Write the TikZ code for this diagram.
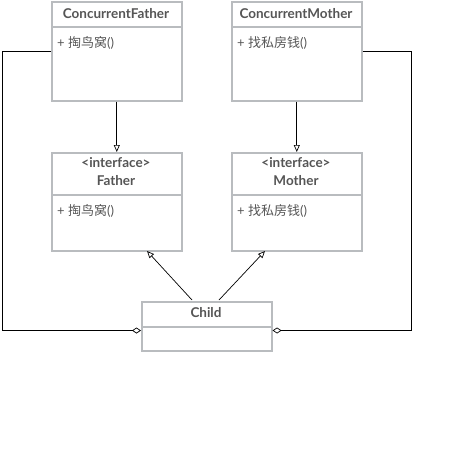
\documentclass[tikz,border=0pt]{standalone}
\usepackage{fontspec}
\setmainfont{Lato}
\newfontfamily\cjk{Noto Sans CJK SC}
\usetikzlibrary{arrows.meta}
\definecolor{bordergray}{HTML}{B9BCBF}
\definecolor{textgray}{HTML}{555555}
\tikzset{
  umlbox/.style={draw=bordergray, line width=1.6pt, fill=white, inner sep=0pt, anchor=north west},
  divline/.style={draw=bordergray, line width=1.6pt},
  hdr/.style={font=\fontsize{13.5}{15}\selectfont\bfseries, text=textgray, inner sep=0pt},
  mem/.style={font=\fontsize{13}{15}\selectfont, text=textgray, inner sep=0pt, anchor=west},
  conn/.style={draw=black, line width=0.7pt},
  realize/.style={conn, -{Triangle[open, length=7pt, width=6pt]}},
  aggr/.style={conn, -{Diamond[open, length=9pt, width=6pt]}}
}
\begin{document}
\begin{tikzpicture}[x=1pt, y=-1pt]
\useasboundingbox (0,0) rectangle (448,453);
% boxes
\node[umlbox, minimum width=130pt, minimum height=99pt] (cf) at (51,1) {};
\node[umlbox, minimum width=130pt, minimum height=99pt] (cm) at (231,1) {};
\node[umlbox, minimum width=130pt, minimum height=98pt] (fa) at (51,152) {};
\node[umlbox, minimum width=130pt, minimum height=98pt] (mo) at (231,152) {};
\node[umlbox, minimum width=130pt, minimum height=49pt] (ch) at (141,301) {};
% dividers
\draw[divline] (cf.west |- 0,27) -- (cf.east |- 0,27);
\draw[divline] (cm.west |- 0,27) -- (cm.east |- 0,27);
\draw[divline] (fa.west |- 0,195) -- (fa.east |- 0,195);
\draw[divline] (mo.west |- 0,195) -- (mo.east |- 0,195);
\draw[divline] (ch.west |- 0,327) -- (ch.east |- 0,327);
% texts
\node[hdr] (cft) at (116,14) {ConcurrentFather};
\node[hdr] (cmt) at (296,14) {ConcurrentMother};
\node[mem] (cfm) at (57,43) {+ {\cjk 掏鸟窝}()};
\node[mem] (cmm) at (237,43) {+ {\cjk 找私房钱}()};
\node[hdr] (fai) at (116,163) {<interface>};
\node[hdr] (fat) at (116,181) {Father};
\node[hdr] (moi) at (296,163) {<interface>};
\node[hdr] (mot) at (296,181) {Mother};
\node[mem] (fam) at (57,211) {+ {\cjk 掏鸟窝}()};
\node[mem] (mom) at (237,211) {+ {\cjk 找私房钱}()};
\node[hdr] (cht) at (206,313) {Child};
% connectors
\draw[realize] (cf.south) -- (fa.north);
\draw[realize] (cm.south) -- (mo.north);
\coordinate (chl) at (192,300);
\coordinate (chr) at (219,300);
\coordinate (fae) at (147,251);
\coordinate (moe) at (265,251);
\draw[realize] (chl) -- (fae);
\draw[realize] (chr) -- (moe);
\coordinate (lc) at (2,330.5);
\coordinate (rc) at (411,330.5);
\draw[aggr] (cf.west) -| (lc) -- (ch.west |- lc);
\draw[aggr] (cm.east) -| (rc) -- (ch.east |- rc);
\end{tikzpicture}
\end{document}
